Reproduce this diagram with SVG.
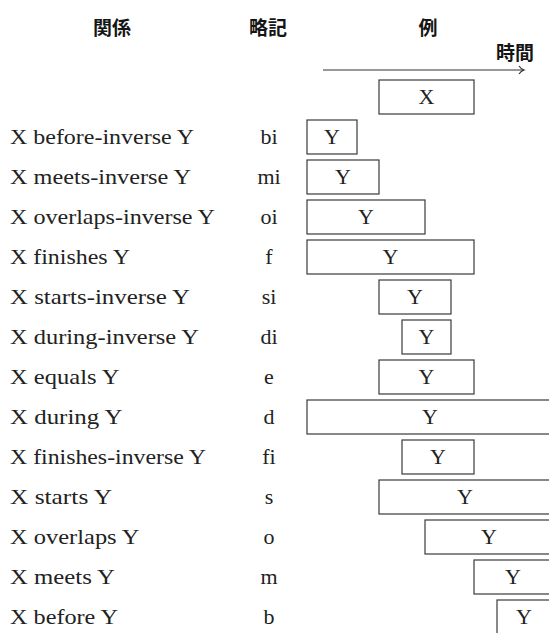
<svg xmlns="http://www.w3.org/2000/svg" width="549" height="633" viewBox="0 0 549 633">
<style>
.hd{font-family:"Noto Sans CJK JP","Noto Sans",sans-serif;font-size:19px;font-weight:bold;fill:#151515;text-anchor:middle}
.lb{font-family:"Liberation Serif","DejaVu Serif","Times New Roman",serif;font-size:22px;fill:#222}
.ab{font-family:"Liberation Serif","DejaVu Serif","Times New Roman",serif;font-size:22px;fill:#222;text-anchor:middle}
.bx{fill:#fff;stroke:#3a3a3a;stroke-width:1.2}
.bt{font-family:"Liberation Serif","DejaVu Serif","Times New Roman",serif;font-size:22px;fill:#222;text-anchor:middle}
.ax{fill:none;stroke:#333;stroke-width:1.2}
</style>
<rect width="549" height="633" fill="#fff"/>
<g id="header">
<text class="hd" x="112" y="35">関係</text>
<text class="hd" x="268" y="35">略記</text>
<text class="hd" x="428" y="35">例</text>
<text class="hd" x="515" y="60">時間</text>
</g>
<g id="connectors">
<line class="ax" x1="323" y1="70" x2="524" y2="70"/>
<path class="ax" d="M519,66 Q521,69 524,70 Q521,71 519,74"/>
</g>
<g id="X"><rect class="bx" x="379" y="80" width="95" height="34"/><text class="bt" x="426.5" y="104">X</text></g>
<g id="bi"><text class="lb" x="10" y="144" textLength="184" lengthAdjust="spacingAndGlyphs">X before-inverse Y</text><text class="ab" x="269" y="144">bi</text><rect class="bx" x="307" y="120" width="50" height="34"/><text class="bt" x="332" y="144">Y</text></g>
<g id="mi"><text class="lb" x="10" y="184" textLength="181" lengthAdjust="spacingAndGlyphs">X meets-inverse Y</text><text class="ab" x="269" y="184">mi</text><rect class="bx" x="307" y="160" width="72" height="34"/><text class="bt" x="343" y="184">Y</text></g>
<g id="oi"><text class="lb" x="10" y="224" textLength="205" lengthAdjust="spacingAndGlyphs">X overlaps-inverse Y</text><text class="ab" x="269" y="224">oi</text><rect class="bx" x="307" y="200" width="118" height="34"/><text class="bt" x="366" y="224">Y</text></g>
<g id="f"><text class="lb" x="10" y="264" textLength="120" lengthAdjust="spacingAndGlyphs">X finishes Y</text><text class="ab" x="269" y="264">f</text><rect class="bx" x="307" y="240" width="167" height="34"/><text class="bt" x="390.5" y="264">Y</text></g>
<g id="si"><text class="lb" x="10" y="304" textLength="180" lengthAdjust="spacingAndGlyphs">X starts-inverse Y</text><text class="ab" x="269" y="304">si</text><rect class="bx" x="379" y="280" width="72" height="34"/><text class="bt" x="415" y="304">Y</text></g>
<g id="di"><text class="lb" x="10" y="344" textLength="189" lengthAdjust="spacingAndGlyphs">X during-inverse Y</text><text class="ab" x="269" y="344">di</text><rect class="bx" x="402" y="320" width="49" height="34"/><text class="bt" x="426.5" y="344">Y</text></g>
<g id="e"><text class="lb" x="10" y="384" textLength="109.5" lengthAdjust="spacingAndGlyphs">X equals Y</text><text class="ab" x="269" y="384">e</text><rect class="bx" x="379" y="360" width="95" height="34"/><text class="bt" x="426.5" y="384">Y</text></g>
<g id="d"><text class="lb" x="10" y="424" textLength="112.5" lengthAdjust="spacingAndGlyphs">X during Y</text><text class="ab" x="269" y="424">d</text><rect class="bx" x="307" y="400" width="246" height="34"/><text class="bt" x="430" y="424">Y</text></g>
<g id="fi"><text class="lb" x="10" y="464" textLength="196" lengthAdjust="spacingAndGlyphs">X finishes-inverse Y</text><text class="ab" x="269" y="464">fi</text><rect class="bx" x="402" y="440" width="72" height="34"/><text class="bt" x="438" y="464">Y</text></g>
<g id="s"><text class="lb" x="10" y="504" textLength="102" lengthAdjust="spacingAndGlyphs">X starts Y</text><text class="ab" x="269" y="504">s</text><rect class="bx" x="379" y="480" width="174" height="34"/><text class="bt" x="465" y="504">Y</text></g>
<g id="o"><text class="lb" x="10" y="544" textLength="129.5" lengthAdjust="spacingAndGlyphs">X overlaps Y</text><text class="ab" x="269" y="544">o</text><rect class="bx" x="425" y="520" width="128" height="34"/><text class="bt" x="489" y="544">Y</text></g>
<g id="m"><text class="lb" x="10" y="584" textLength="105" lengthAdjust="spacingAndGlyphs">X meets Y</text><text class="ab" x="269" y="584">m</text><rect class="bx" x="474" y="560" width="79" height="34"/><text class="bt" x="513" y="584">Y</text></g>
<g id="b"><text class="lb" x="10" y="624" textLength="108" lengthAdjust="spacingAndGlyphs">X before Y</text><text class="ab" x="269" y="624">b</text><rect class="bx" x="497" y="600" width="56" height="34"/><text class="bt" x="524" y="624">Y</text></g>
</svg>
